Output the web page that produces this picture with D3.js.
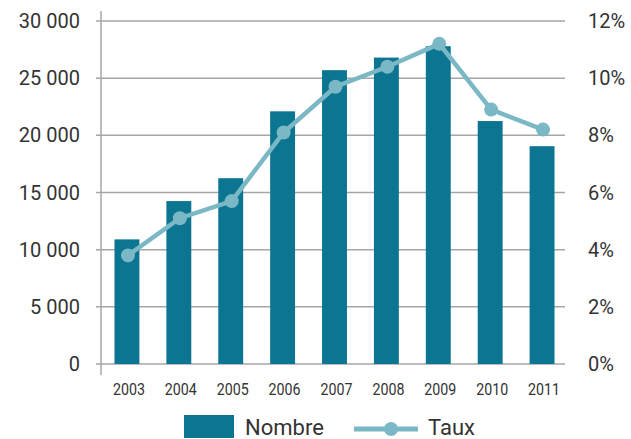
<!DOCTYPE html>
<html>
<head>
<meta charset="utf-8">
<script src="https://cdn.jsdelivr.net/npm/d3@7"></script>
<style>
  body { margin: 0; background: #fff; }
  svg text { font-family: Roboto, "DejaVu Sans", sans-serif; font-weight: 400; fill: #333; }
</style>
</head>
<body>
<div id="chart"></div>
<script>
var years = ['2003', '2004', '2005', '2006', '2007', '2008', '2009', '2010', '2011'];
var nombre = [10900, 14250, 16250, 22100, 25700, 26800, 27800, 21250, 19050];
var taux = [3.8, 5.1, 5.7, 8.1, 9.7, 10.4, 11.2, 8.9, 8.2];
var leftTicks = [0, 5000, 10000, 15000, 20000, 25000, 30000];
var rightTicks = [0, 2, 4, 6, 8, 10, 12];

var consts = {
    width: 631,
    height: 439,
    left: 101,
    right: 568,
    top: 21,
    bottom: 364,
    barColor: '#0b7592',
    lineColor: '#7bb8c5',
    gridColor: '#a6a6a6'
};

var data = years.map(function (y, i) {
    return { year: y, nombre: nombre[i], taux: taux[i] };
});

var vis = d3.select('#chart').append('svg')
    .attr('width', consts.width)
    .attr('height', consts.height);

var x = d3.scaleBand()
    .domain(years)
    .range([consts.left, consts.right])
    .paddingInner(0.52)
    .paddingOuter(0.26);

var yLeft = d3.scaleLinear().domain([0, 30000]).range([consts.bottom, consts.top]);
var yRight = d3.scaleLinear().domain([0, 12]).range([consts.bottom, consts.top]);

// gridlines + left ticks
vis.append('g').selectAll('line')
    .data(leftTicks)
    .enter()
    .append('line')
    .attr('x1', 96)
    .attr('x2', 565)
    .attr('y1', function (d) { return yLeft(d); })
    .attr('y2', function (d) { return yLeft(d); })
    .attr('stroke', consts.gridColor)
    .attr('stroke-width', 1.5);

// y axis line
vis.append('line')
    .attr('x1', consts.left).attr('x2', consts.left)
    .attr('y1', 11).attr('y2', 375)
    .attr('stroke', consts.gridColor)
    .attr('stroke-width', 1.5);

var fmt = function (d) {
    return d3.format(',')(d).replace(/,/g, ' ');
};

vis.append('g').selectAll('text')
    .data(leftTicks)
    .enter()
    .append('text')
    .attr('x', 80)
    .attr('y', function (d) { return yLeft(d); })
    .attr('dy', '0.35em')
    .attr('text-anchor', 'end')
    .style('font-size', '20px')
    .text(fmt);

vis.append('g').selectAll('text')
    .data(rightTicks)
    .enter()
    .append('text')
    .attr('x', 588)
    .attr('y', function (d) { return yRight(d); })
    .attr('dy', '0.35em')
    .style('font-size', '20px')
    .text(function (d) { return d + '%'; });

// bars
vis.append('g').selectAll('rect')
    .data(data)
    .enter()
    .append('rect')
    .attr('x', function (d) { return x(d.year); })
    .attr('y', function (d) { return yLeft(d.nombre); })
    .attr('width', x.bandwidth())
    .attr('height', function (d) { return yLeft(0) - yLeft(d.nombre); })
    .attr('fill', consts.barColor);

// line
var cx = function (d) { return x(d.year) + x.bandwidth() / 2 + 1; };
vis.append('path')
    .datum(data)
    .attr('fill', 'none')
    .attr('stroke', consts.lineColor)
    .attr('stroke-width', 4.5)
    .attr('d', d3.line().x(cx).y(function (d) { return yRight(d.taux); }));

vis.append('g').selectAll('circle')
    .data(data)
    .enter()
    .append('circle')
    .attr('cx', cx)
    .attr('cy', function (d) { return yRight(d.taux); })
    .attr('r', 7)
    .attr('fill', consts.lineColor);

// year labels
vis.append('g').selectAll('text')
    .data(years)
    .enter()
    .append('text')
    .attr('x', function (d) { return x(d) + x.bandwidth() / 2 + 2; })
    .attr('y', 395)
    .attr('text-anchor', 'middle')
    .attr('textLength', 32)
    .attr('lengthAdjust', 'spacingAndGlyphs')
    .style('font-size', '17px')
    .text(function (d) { return d; });

// legend
var legend = vis.append('g');
legend.append('rect')
    .attr('x', 184).attr('y', 415)
    .attr('width', 50).attr('height', 23)
    .attr('fill', consts.barColor);
legend.append('text')
    .attr('x', 245).attr('y', 435)
    .style('font-size', '22px')
    .text('Nombre');
legend.append('line')
    .attr('x1', 354).attr('x2', 418)
    .attr('y1', 429).attr('y2', 429)
    .attr('stroke', consts.lineColor)
    .attr('stroke-width', 5);
legend.append('circle')
    .attr('cx', 391).attr('cy', 429)
    .attr('r', 7)
    .attr('fill', consts.lineColor);
legend.append('text')
    .attr('x', 428).attr('y', 435)
    .style('font-size', '22px')
    .text('Taux');
</script>
</body>
</html>
